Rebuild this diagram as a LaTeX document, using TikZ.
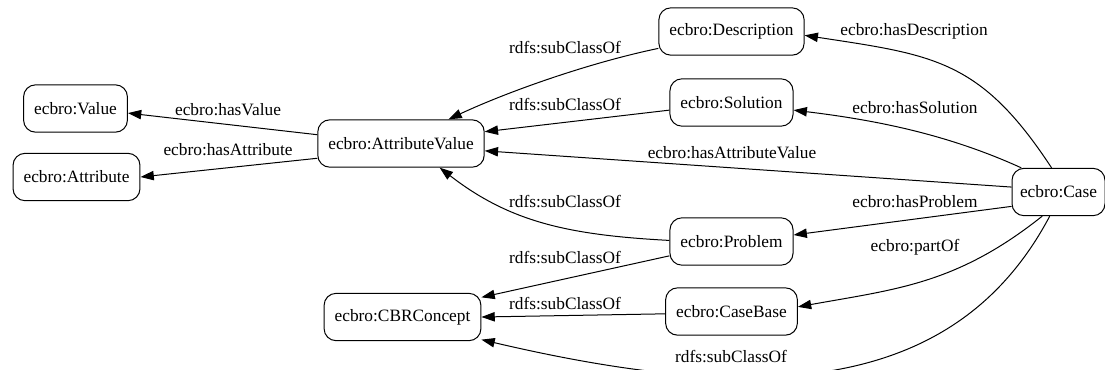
\documentclass[tikz,border=0pt]{standalone}
\usepackage{fontspec}
\setmainfont{Liberation Serif}
\usetikzlibrary{arrows.meta}

\tikzset{
  cls/.style={draw, rounded corners=9pt, minimum height=35.5pt, inner xsep=7.9pt,
    inner ysep=0pt, line width=0.75pt, font=\fontsize{13}{15}\selectfont},
  lbl/.style={inner sep=0pt, font=\fontsize{13}{15}\selectfont},
  rel/.style={line width=0.75pt, -{Triangle[length=10pt,width=7pt]}}
}

\begin{document}
\begin{tikzpicture}[x=0.75pt,y=-0.75pt]
   \useasboundingbox (0,0) rectangle (1105,369);
   % classes
   \path (75.5,108.5) node[cls] (value) {ecbro:Value};
   \path (76.5,177) node[cls] (attribute) {ecbro:Attribute};
   \path (401,143.5) node[cls] (attrvalue) {ecbro:AttributeValue};
   \path (731.5,31.5) node[cls] (description) {ecbro:Description};
   \path (731.5,102.5) node[cls] (solution) {ecbro:Solution};
   \path (731.5,241.5) node[cls] (problem) {ecbro:Problem};
   \path (731.5,311.5) node[cls] (casebase) {ecbro:CaseBase};
   \path (402.5,317) node[cls] (cbrconcept) {ecbro:CBRConcept};
   \path (1058.5,192) node[cls,inner xsep=6pt] (case) {ecbro:Case};
   % relations
   \draw[rel] (attrvalue.174) -- (value.-5);
   \draw[rel] (attrvalue.190) -- (attribute.east);
   \draw[rel] (description.193) .. controls (588,63) and (507,92) .. (attrvalue.27);
   \draw[rel] (solution.187) -- (attrvalue.8);
   \draw[rel] (case.174) -- (attrvalue.-5);
   \draw[rel] (problem.179) .. controls (568,235) and (510,222) .. (attrvalue.-32);
   \draw[rel] (problem.193) -- (cbrconcept.14);
   \draw[rel] (casebase.182) -- (cbrconcept.east);
   \draw[rel] (case.-110) .. controls (955,395) and (760,405) .. (cbrconcept.-16);
   \draw[rel] (case.106) .. controls (980.5,59.5) and (934,55) .. (description.-3);
   \draw[rel] (case.147) .. controls (947,134) and (875,120) .. (solution.-7);
   \draw[rel] (case.197) -- (problem.6);
   \draw[rel] (case.-124) .. controls (957,284) and (897,289) .. (casebase.4);
   % relation labels
   \path (228,110) node[lbl] (lvalue) {ecbro:hasValue};
   \path (228,150) node[lbl] (lattribute) {ecbro:hasAttribute};
   \path (565,48) node[lbl] (lsubdesc) {rdfs:subClassOf};
   \path (565,105) node[lbl] (lsubsol) {rdfs:subClassOf};
   \path (565,202) node[lbl] (lsubprob) {rdfs:subClassOf};
   \path (565,258) node[lbl] (lsubprobcbr) {rdfs:subClassOf};
   \path (565,304) node[lbl] (lsubbase) {rdfs:subClassOf};
   \path (731,357) node[lbl] (lsubcase) {rdfs:subClassOf};
   \path (732,153) node[lbl] (lattrvalue) {ecbro:hasAttributeValue};
   \path (914,31) node[lbl] (ldesc) {ecbro:hasDescription};
   \path (915,108) node[lbl] (lsol) {ecbro:hasSolution};
   \path (915,202) node[lbl] (lprob) {ecbro:hasProblem};
   \path (915,247) node[lbl] (lpart) {ecbro:partOf};
\end{tikzpicture}
\end{document}
